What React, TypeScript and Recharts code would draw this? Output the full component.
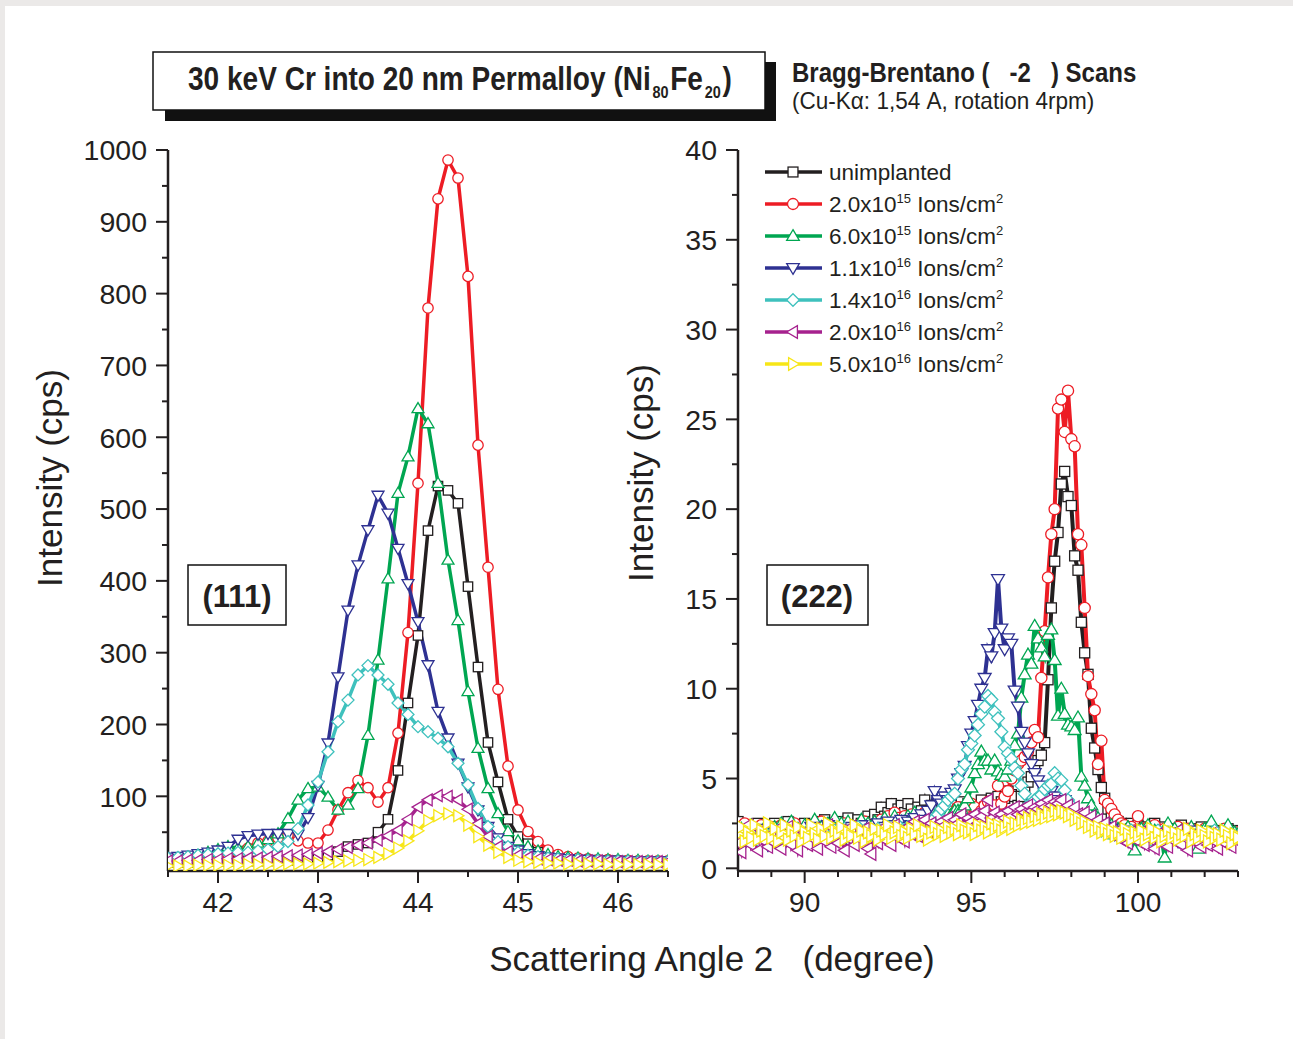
import React from "react";
import { LineChart, Line, XAxis, YAxis } from "recharts";

const FONT = "'Liberation Sans', Arial, Helvetica, sans-serif";
const INK = "#231f20";

// ---------- (111) reflection, 2θ 41.5°–46.5° ----------
const angles111 = [
  41.5, 41.6, 41.7, 41.8, 41.9,
  42, 42.1, 42.2, 42.3, 42.4, 42.5, 42.6, 42.7, 42.8, 42.9,
  43, 43.1, 43.2, 43.3, 43.4, 43.5, 43.6, 43.7, 43.8, 43.9,
  44, 44.1, 44.2, 44.3, 44.4, 44.5, 44.6, 44.7, 44.8, 44.9,
  45, 45.1, 45.2, 45.3, 45.4, 45.5, 45.6, 45.7, 45.8, 45.9,
  46, 46.1, 46.2, 46.3, 46.4, 46.5,
];
const unimplanted111 = [
  8, 8, 8, 9, 9,
  9, 9, 10, 10, 10, 10, 11, 11, 12, 13,
  15, 18, 23, 30, 33, 35, 50, 68, 136, 230,
  324, 470, 532, 526, 508, 392, 280, 175, 120, 68,
  44, 34, 22, 16, 13, 12, 11, 11, 10, 10,
  10, 9, 9, 9, 9, 9,
];
const dose2e15_111 = [
  12, 12, 13, 14, 15,
  17, 19, 22, 28, 35, 38, 42, 46, 38, 35,
  35, 53, 81, 105, 122, 112, 92, 112, 188, 328,
  536, 780, 932, 986, 961, 824, 589, 419, 249, 142,
  81, 51, 37, 25, 19, 16, 14, 13, 12, 12,
  11, 11, 10, 10, 10, 10,
];
const dose6e15_111 = [
  12, 13, 15, 18, 22,
  26, 30, 28, 30, 35, 40, 48, 69, 95, 111,
  113, 99, 81, 88, 111, 185, 290, 403, 522, 573,
  640, 619, 536, 429, 345, 246, 167, 111, 76, 51,
  38, 30, 24, 19, 16, 15, 14, 13, 13, 12,
  12, 11, 11, 10, 10, 10,
];
const dose11e16_111 = [
  15, 16, 18, 20, 22,
  25, 30, 40, 45, 47, 48, 48, 48, 47, 70,
  115, 174, 266, 359, 422, 471, 519, 494, 445, 396,
  343, 283, 218, 181, 146, 113, 81, 58, 42, 30,
  25, 20, 17, 15, 14, 13, 12, 12, 11, 11,
  11, 10, 10, 10, 10, 10,
];
const dose14e16_111 = [
  14, 15, 16, 18, 19,
  20, 21, 22, 22, 24, 26, 30, 37, 55, 88,
  120, 162, 204, 234, 269, 282, 269, 256, 230, 214,
  197, 190, 181, 169, 146, 116, 83, 58, 37, 30,
  22, 18, 16, 14, 13, 12, 12, 11, 11, 10,
  10, 10, 9, 9, 9, 9,
];
const dose2e16_111 = [
  10, 10, 11, 11, 12,
  12, 13, 13, 14, 14, 15, 16, 17, 18, 19,
  21, 23, 26, 29, 32, 35, 39, 45, 53, 68,
  85, 95, 101, 100, 95, 82, 62, 44, 30, 23,
  18, 15, 13, 12, 11, 11, 10, 10, 10, 9,
  9, 9, 9, 9, 9, 9,
];
const dose5e16_111 = [
  3, 3, 3, 4, 4,
  4, 4, 4, 5, 5, 5, 5, 6, 6, 6,
  7, 8, 9, 10, 11, 12, 15, 20, 28, 38,
  52, 66, 73, 76, 73, 60, 44, 32, 22, 15,
  11, 9, 8, 7, 7, 6, 6, 6, 6, 5,
  5, 5, 5, 5, 5, 5,
];

// ---------- (222) reflection, 2θ 88°–103° ----------
const angles222 = [
  88, 88.1, 88.2, 88.3, 88.4, 88.5, 88.6, 88.7, 88.8, 88.9,
  89, 89.1, 89.2, 89.3, 89.4, 89.5, 89.6, 89.7, 89.8, 89.9,
  90, 90.1, 90.2, 90.3, 90.4, 90.5, 90.6, 90.7, 90.8, 90.9,
  91, 91.1, 91.2, 91.3, 91.4, 91.5, 91.6, 91.7, 91.8, 91.9,
  92, 92.1, 92.2, 92.3, 92.4, 92.5, 92.6, 92.7, 92.8, 92.9,
  93, 93.1, 93.2, 93.3, 93.4, 93.5, 93.6, 93.7, 93.8, 93.9,
  94, 94.1, 94.2, 94.3, 94.4, 94.5, 94.6, 94.7, 94.8, 94.9,
  95, 95.1, 95.2, 95.3, 95.4, 95.5, 95.6, 95.7, 95.8, 95.9,
  96, 96.1, 96.2, 96.3, 96.4, 96.5, 96.6, 96.7, 96.8, 96.9,
  97, 97.1, 97.2, 97.3, 97.4, 97.5, 97.6, 97.7, 97.8, 97.9,
  98, 98.1, 98.2, 98.3, 98.4, 98.5, 98.6, 98.7, 98.8, 98.9,
  99, 99.1, 99.2, 99.3, 99.4, 99.5, 99.6, 99.7, 99.8, 99.9,
  100, 100.1, 100.2, 100.3, 100.4, 100.5, 100.6, 100.7, 100.8, 100.9,
  101, 101.1, 101.2, 101.3, 101.4, 101.5, 101.6, 101.7, 101.8, 101.9,
  102, 102.1, 102.2, 102.3, 102.4, 102.5, 102.6, 102.7, 102.8, 102.9,
  103,
];
const unimplanted222 = [
  2.6, 2.3, 2.0, 2.4, 2.2, 1.9, 2.5, 2.1, 2.3, 2.0,
  2.2, 2.5, 1.9, 2.3, 2.1, 2.6, 2.0, 2.4, 2.2, 2.3,
  2.5, 2.1, 2.4, 2.0, 2.6, 2.3, 2.7, 2.2, 2.5, 2.4,
  2.1, 2.6, 2.3, 2.8, 2.4, 2.2, 2.7, 2.5, 2.3, 2.9,
  2.6, 3.0, 2.7, 3.4, 2.9, 3.1, 3.6, 3.0, 3.3, 3.5,
  3.1, 3.6, 3.3, 2.9, 3.4, 3.2, 3.8, 3.0, 3.5, 3.3,
  3.0, 3.4, 3.1, 3.6, 3.2, 3.5, 3.3, 3.7, 3.4, 3.6,
  3.2, 3.5, 3.3, 3.8, 3.4, 3.6, 3.9, 3.5, 4.0, 3.7,
  3.9, 4.3, 4.1, 4.0, 3.5, 4.0, 4.5, 4.8, 5.1, 5.6,
  6.0, 6.3, 7.0, 10.5, 14.5, 17.1, 18.7, 21.4, 22.1, 20.7,
  20.2, 17.4, 16.6, 13.7, 12.0, 10.8, 7.8, 6.7, 5.5, 4.5,
  3.9, 3.3, 3.0, 2.8, 2.6, 2.5, 2.4, 2.3, 2.5, 2.2,
  2.4, 2.1, 2.3, 2.0, 2.2, 2.5, 1.9, 2.1, 2.3, 2.0,
  2.2, 1.9, 2.1, 2.4, 1.8, 2.0, 2.2, 1.9, 2.1, 2.3,
  1.8, 2.0, 2.2, 1.9, 2.1, 1.7, 2.0, 2.2, 1.9, 2.1,
  2.0,
];
const dose2e15_222 = [
  2.2, 1.6, 2.5, 1.9, 2.3, 1.5, 2.1, 2.4, 1.8, 2.0,
  2.3, 1.7, 2.0, 2.4, 1.9, 2.2, 1.6, 2.5, 2.0, 1.8,
  2.1, 2.4, 1.7, 2.2, 1.9, 2.6, 2.0, 1.8, 2.3, 2.1,
  1.9, 2.2, 2.5, 2.0, 2.3, 1.8, 2.4, 2.1, 2.6, 2.2,
  2.0, 2.4, 2.2, 2.7, 2.3, 2.9, 2.5, 3.1, 2.8, 2.6,
  2.9, 2.5, 3.0, 2.7, 2.4, 2.8, 3.1, 2.6, 2.9, 2.7,
  2.8, 3.0, 2.6, 3.2, 2.9, 3.1, 3.4, 3.0, 3.3, 3.5,
  3.6, 3.4, 3.0, 3.2, 3.5, 3.7, 3.5, 3.5, 4.6, 3.6,
  4.0, 4.3, 5.0, 5.45, 5.8, 6.0, 6.2, 6.5, 7.0, 7.7,
  7.3, 10.6, 13.2, 16.2, 18.6, 20.0, 25.6, 26.1, 24.3, 26.6,
  23.9, 23.5, 18.6, 18.0, 14.5, 10.7, 9.7, 8.8, 5.8, 7.1,
  3.8, 3.6, 3.3, 3.0, 2.7, 2.5, 2.4, 2.2, 2.3, 2.1,
  2.9, 2.2, 1.9, 2.3, 2.0, 2.4, 1.8, 2.1, 2.2, 1.9,
  2.1, 1.8, 2.3, 2.0, 1.7, 2.2, 1.9, 2.1, 1.8, 2.0,
  2.2, 1.9, 1.7, 2.1, 2.0, 1.8, 2.2, 1.9, 2.0, 1.8,
  2.0,
];
const dose6e15_222 = [
  1.8, 2.2, 1.5, 2.0, 2.4, 1.7, 2.1, 1.9, 2.3, 1.6,
  2.0, 2.3, 1.8, 2.5, 1.9, 2.1, 2.6, 1.7, 2.2, 2.0,
  2.4, 1.9, 2.2, 2.7, 2.0, 2.3, 1.8, 2.5, 2.1, 2.8,
  2.2, 2.5, 2.0, 2.6, 2.3, 1.9, 2.4, 2.7, 2.1, 2.5,
  2.3, 2.6, 2.0, 2.4, 2.8, 2.2, 2.5, 2.9, 2.3, 2.6,
  2.4, 2.9, 2.6, 3.1, 2.7, 2.5, 3.0, 2.8, 3.2, 2.9,
  2.5, 2.7, 2.8, 3.0, 3.0, 3.2, 3.2, 3.3, 3.5, 3.9,
  4.5, 5.3, 5.8, 6.5, 6.0, 6.0, 5.5, 6.0, 5.4, 5.2,
  5.1, 5.5, 6.0, 6.85, 7.5, 9.5, 10.8, 11.9, 11.4, 13.5,
  12.8, 12.3, 11.8, 13.0, 13.3, 11.6, 8.5, 10.0, 8.6, 8.0,
  7.9, 7.7, 8.4, 5.1, 4.6, 3.9, 3.5, 3.0, 2.8, 2.5,
  2.3, 2.1, 2.4, 1.9, 2.2, 2.0, 1.7, 2.3, 1.8, 1.0,
  2.1, 2.2, 1.9, 2.4, 1.8, 2.1, 2.0, 1.7, 0.6, 2.5,
  1.9, 2.2, 1.8, 2.1, 1.6, 2.0, 2.3, 1.9, 1.1, 2.0,
  2.2, 1.8, 2.6, 2.0, 1.7, 2.1, 1.9, 2.4, 1.8, 2.0,
  1.9,
];
const dose11e16_222 = [
  1.6, 2.0, 1.4, 1.8, 2.1, 1.5, 1.9, 1.7, 2.2, 1.3,
  1.8, 2.1, 1.6, 1.9, 1.4, 2.0, 1.7, 2.2, 1.5, 1.9,
  2.0, 1.6, 2.3, 1.8, 1.5, 2.1, 1.9, 2.4, 1.7, 2.0,
  1.7, 2.2, 1.9, 1.6, 2.3, 2.0, 1.8, 2.4, 2.1, 1.9,
  2.2, 1.8, 2.5, 2.0, 2.3, 2.6, 2.1, 2.4, 2.2, 2.7,
  2.3, 2.6, 2.4, 2.8, 2.5, 3.0, 2.7, 3.2, 3.5, 4.3,
  3.8, 3.6, 4.0, 3.8, 4.2, 4.4, 5.0, 5.3, 5.7, 6.8,
  7.5, 8.2, 9.1, 10.0, 10.6, 12.2, 11.8, 13.1, 16.1, 13.35,
  12.2, 12.8, 12.5, 9.9, 9.0, 7.6, 7.0, 6.4, 5.8, 5.3,
  4.9, 4.6, 4.2, 4.0, 4.3, 4.0, 3.8, 3.6, 3.8, 3.4,
  3.2, 3.0, 2.9, 2.7, 2.8, 2.7, 2.5, 2.4, 2.3, 2.4,
  2.3, 2.1, 2.2, 1.9, 2.0, 1.8, 2.1, 1.7, 1.9, 2.0,
  1.8, 1.6, 2.0, 1.7, 1.9, 1.5, 1.8, 2.0, 1.6, 1.9,
  1.7, 2.0, 1.5, 1.8, 1.9, 1.6, 2.1, 1.7, 1.8, 1.5,
  1.9, 1.6, 1.8, 2.0, 1.5, 1.7, 1.9, 1.6, 1.8, 1.7,
  1.8,
];
const dose14e16_222 = [
  1.7, 2.0, 1.5, 1.9, 1.6, 2.1, 1.8, 1.4, 2.0, 1.7,
  1.9, 1.5, 2.1, 1.8, 1.6, 2.0, 1.7, 2.2, 1.5, 1.9,
  1.8, 2.1, 1.6, 1.9, 2.2, 1.7, 2.0, 1.5, 1.8, 2.1,
  1.6, 1.9, 2.2, 1.8, 2.0, 1.7, 2.3, 1.9, 2.1, 1.8,
  2.0, 1.8, 2.2, 1.9, 2.1, 2.3, 2.0, 2.2, 2.4, 2.1,
  2.0, 2.3, 2.1, 2.4, 2.2, 2.3, 2.5, 2.6, 2.6, 2.8,
  3.0, 3.3, 3.5, 3.8, 4.0, 4.15, 5.0, 5.5, 5.8, 6.6,
  6.95, 7.4, 8.0, 8.6, 9.0, 9.6, 9.4, 8.7, 8.35, 7.6,
  6.75, 6.4, 6.1, 5.6, 5.3, 4.6, 4.15, 3.5, 3.6, 3.8,
  3.97, 4.1, 4.4, 4.6, 4.7, 5.3, 5.0, 4.9, 4.35, 3.8,
  3.5, 3.2, 3.0, 2.8, 2.6, 2.5, 2.4, 2.3, 2.2, 2.1,
  2.2, 2.0, 1.9, 2.1, 1.8, 2.0, 1.7, 1.9, 2.1, 1.8,
  1.9, 1.7, 2.0, 1.8, 1.6, 1.9, 2.1, 1.7, 1.8, 2.0,
  1.7, 1.9, 1.6, 2.0, 1.8, 1.5, 1.9, 1.7, 2.0, 1.8,
  1.6, 1.9, 1.7, 2.1, 1.8, 1.6, 2.0, 1.7, 1.9, 1.8,
  1.7,
];
const dose2e16_222 = [
  1.4, 0.9, 1.8, 2.4, 1.3, 1.7, 1.0, 2.1, 1.5, 1.2,
  1.9, 1.4, 2.2, 1.1, 1.7, 2.3, 1.3, 1.8, 1.0, 1.6,
  2.0, 1.3, 1.7, 2.2, 1.1, 1.9, 1.5, 2.4, 1.2, 1.8,
  1.4, 2.1, 1.0, 1.7, 2.3, 1.3, 1.9, 1.6, 2.2, 1.1,
  0.8, 1.8, 1.4, 2.2, 1.6, 2.0, 1.3, 2.4, 1.7, 2.1,
  1.5, 2.3, 1.9, 2.6, 1.8, 2.2, 2.7, 2.0, 2.5, 2.3,
  2.1, 2.6, 2.4, 2.8, 2.2, 2.7, 2.5, 3.0, 2.4, 2.8,
  2.6, 3.0, 2.5, 2.9, 3.2, 3.8, 2.8, 3.1, 2.7, 3.0,
  2.8, 3.2, 2.9, 3.4, 3.0, 3.3, 3.1, 3.5, 3.2, 3.4,
  3.3, 3.6, 3.4, 3.8, 3.5, 3.7, 3.6, 3.8, 3.4, 3.5,
  3.2, 3.4, 3.0, 2.7, 3.1, 2.6, 2.9, 2.4, 2.7, 2.2,
  2.5, 2.0, 2.3, 1.8, 2.1, 1.6, 1.9, 1.4, 2.0, 1.7,
  1.5, 2.0, 1.3, 1.8, 1.6, 1.1, 1.9, 1.4, 1.7, 1.2,
  1.8, 1.5, 2.1, 1.3, 1.7, 1.0, 1.6, 1.9, 1.4, 1.2,
  1.7, 1.3, 1.9, 1.5, 1.1, 1.8, 1.4, 1.6, 1.2, 1.7,
  1.5,
];
const dose5e16_222 = [
  1.9, 2.3, 1.5, 2.0, 1.7, 2.4, 1.6, 2.1, 1.8, 2.5,
  1.7, 2.2, 1.5, 2.0, 2.4, 1.6, 2.1, 1.8, 2.3, 1.5,
  2.0, 1.7, 2.4, 1.9, 1.6, 2.2, 1.8, 2.5, 1.7, 2.1,
  1.9, 2.3, 1.6, 2.0, 1.8, 2.4, 1.7, 2.1, 1.5, 2.0,
  1.8, 2.2, 1.6, 2.1, 1.9, 2.4, 1.7, 2.0, 2.3, 1.8,
  2.0, 1.7, 2.2, 1.9, 2.4, 1.8, 2.1, 1.6, 2.0, 2.3,
  1.9, 2.1, 1.8, 2.3, 2.0, 2.2, 1.9, 2.4, 2.1, 2.0,
  2.2, 1.9, 2.4, 2.1, 2.3, 2.0, 2.5, 2.2, 2.4, 2.1,
  2.3, 2.6, 2.2, 2.5, 2.4, 2.7, 2.5, 2.8, 2.6, 2.9,
  2.7, 3.0, 2.8, 3.1, 2.9, 3.2, 3.0, 3.2, 3.1, 2.9,
  3.0, 2.7, 2.8, 2.5, 2.6, 2.3, 2.4, 2.1, 2.3, 2.0,
  2.2, 1.9, 2.1, 1.8, 2.0, 1.7, 2.2, 1.9, 1.6, 2.0,
  1.8, 2.1, 1.6, 1.9, 2.2, 1.7, 2.0, 1.5, 1.8, 2.1,
  1.7, 2.0, 1.6, 1.9, 1.8, 2.2, 1.5, 1.9, 1.7, 2.1,
  1.8, 1.5, 2.0, 1.7, 1.9, 1.6, 2.1, 1.8, 1.4, 1.9,
  1.7,
];

// axis ticks
const xTicks111 = [41.5, 42, 42.5, 43, 43.5, 44, 44.5, 45, 45.5, 46, 46.5];
const xLabels111 = [42, 43, 44, 45, 46];
const yTicks111 = [50, 100, 150, 200, 250, 300, 350, 400, 450, 500, 550, 600, 650, 700, 750, 800, 850, 900, 950, 1000];
const yLabels111 = [100, 200, 300, 400, 500, 600, 700, 800, 900, 1000];
const xTicks222 = [88, 89, 90, 91, 92, 93, 94, 95, 96, 97, 98, 99, 100, 101, 102, 103];
const xLabels222 = [90, 95, 100];
const yTicks222 = [0, 2.5, 5, 7.5, 10, 12.5, 15, 17.5, 20, 22.5, 25, 27.5, 30, 32.5, 35, 37.5, 40];
const yLabels222 = [0, 5, 10, 15, 20, 25, 30, 35, 40];

// legend text parts: mantissa and exponent of the dose
const doseMantissa = ["2.0", "6.0", "1.1", "1.4", "2.0", "5.0"];
const doseExponent = ["15", "15", "16", "16", "16", "16"];

type Shape = "square" | "circle" | "up" | "down" | "diamond" | "left" | "right";

const series: { key: string; color: string; shape: Shape }[] = [
  { key: "s0", color: "#231f20", shape: "square" },
  { key: "s1", color: "#ed1c24", shape: "circle" },
  { key: "s2", color: "#00a651", shape: "up" },
  { key: "s3", color: "#2e3192", shape: "down" },
  { key: "s4", color: "#3ec1bd", shape: "diamond" },
  { key: "s5", color: "#a6228e", shape: "left" },
  { key: "s6", color: "#f7e617", shape: "right" },
];

const rows111 = angles111.map((a, i) => ({
  angle: a,
  s0: unimplanted111[i],
  s1: dose2e15_111[i],
  s2: dose6e15_111[i],
  s3: dose11e16_111[i],
  s4: dose14e16_111[i],
  s5: dose2e16_111[i],
  s6: dose5e16_111[i],
}));

const rows222 = angles222.map((a, i) => ({
  angle: a,
  s0: unimplanted222[i],
  s1: dose2e15_222[i],
  s2: dose6e15_222[i],
  s3: dose11e16_222[i],
  s4: dose14e16_222[i],
  s5: dose2e16_222[i],
  s6: dose5e16_222[i],
}));

function Marker({ cx, cy, shape, color, r }: { cx?: number; cy?: number; shape: Shape; color: string; r: number }) {
  if (cx == null || cy == null || isNaN(cx) || isNaN(cy)) return null;
  const st = { fill: "#fff", stroke: color, strokeWidth: 1.3 };
  const k = r * 1.15;
  switch (shape) {
    case "square":
      return <rect x={cx - r * 0.9} y={cy - r * 0.9} width={r * 1.8} height={r * 1.8} {...st} />;
    case "circle":
      return <circle cx={cx} cy={cy} r={r} {...st} />;
    case "up":
      return <polygon points={`${cx},${cy - k} ${cx + k},${cy + r * 0.8} ${cx - k},${cy + r * 0.8}`} {...st} />;
    case "down":
      return <polygon points={`${cx},${cy + k} ${cx + k},${cy - r * 0.8} ${cx - k},${cy - r * 0.8}`} {...st} />;
    case "diamond":
      return <polygon points={`${cx},${cy - k} ${cx + k},${cy} ${cx},${cy + k} ${cx - k},${cy}`} {...st} />;
    case "left":
      return <polygon points={`${cx - k},${cy} ${cx + r * 0.8},${cy - k} ${cx + r * 0.8},${cy + k}`} {...st} />;
    default:
      return <polygon points={`${cx + k},${cy} ${cx - r * 0.8},${cy - k} ${cx - r * 0.8},${cy + k}`} {...st} />;
  }
}

// ticks drawn by hand so major/minor tick lengths differ
function yTick(axisX: number, labels: number[], fontSize: number) {
  return (p: any) => {
    const v = p.payload?.value;
    const major = labels.includes(v);
    return (
      <g key={`yt-${v}`}>
        <line x1={axisX - (major ? 12 : 6)} x2={axisX} y1={p.y} y2={p.y} stroke={INK} strokeWidth={2} />
        {major && (
          <text x={axisX - 21} y={p.y} dy="0.36em" textAnchor="end" fontSize={fontSize} fill={INK} fontFamily={FONT}>
            {v}
          </text>
        )}
      </g>
    );
  };
}

function xTick(axisY: number, labels: number[], fontSize: number) {
  return (p: any) => {
    const v = p.payload?.value;
    const major = labels.includes(v);
    return (
      <g key={`xt-${v}`}>
        <line x1={p.x} x2={p.x} y1={axisY} y2={axisY + (major ? 12 : 6)} stroke={INK} strokeWidth={2} />
        {major && (
          <text x={p.x} y={axisY + 21} dy="0.71em" textAnchor="middle" fontSize={fontSize} fill={INK} fontFamily={FONT}>
            {v}
          </text>
        )}
      </g>
    );
  };
}

const PLOT_TOP = 150;
const PLOT_BOTTOM = 871;
const CH = 1039;
const X_AXIS_H = 60;

function Panel({
  data, left, width, yWidth, right, xDomain, yDomain, xTicks, xLabels, yTicks, yLabels, r, sw,
}: any) {
  return (
    <div style={{ position: "absolute", left, top: 0 }}>
      <LineChart
        width={width}
        height={CH}
        data={data}
        margin={{ top: PLOT_TOP, right, bottom: CH - PLOT_BOTTOM - X_AXIS_H, left: 0 }}
      >
        <XAxis
          type="number"
          dataKey="angle"
          domain={xDomain}
          ticks={xTicks}
          interval={0}
          height={X_AXIS_H}
          tickLine={false}
          axisLine={{ stroke: INK, strokeWidth: 2.5 }}
          tick={xTick(PLOT_BOTTOM, xLabels, 28)}
          allowDataOverflow
        />
        <YAxis
          type="number"
          domain={yDomain}
          ticks={yTicks}
          interval={0}
          width={yWidth}
          tickLine={false}
          axisLine={{ stroke: INK, strokeWidth: 2.5 }}
          tick={yTick(yWidth, yLabels, 28.5)}
          allowDataOverflow
        />
        {series.map((s) => (
          <Line
            key={s.key}
            type="linear"
            dataKey={s.key}
            stroke={s.color}
            strokeWidth={sw}
            isAnimationActive={false}
            activeDot={false}
            dot={(p: any) => <Marker key={`${s.key}-${p.index}`} cx={p.cx} cy={p.cy} shape={s.shape} color={s.color} r={r} />}
          />
        ))}
      </LineChart>
    </div>
  );
}

function Sup({ children }: { children: React.ReactNode }) {
  return (
    <tspan dy={-9} fontSize={13}>
      {children}
    </tspan>
  );
}

export default function App() {
  const legendRows = series.map((s, i) => ({ ...s, y: 172 + i * 32 }));
  return (
    <div style={{ position: "absolute", left: 0, top: 0, width: 1293, height: 1039, background: "#ebe9e8", fontFamily: FONT, overflow: "hidden" }}>
      <div style={{ position: "absolute", left: 5, top: 6, width: 1288, height: 1033, background: "#fff" }} />
      <Panel
        data={rows111}
        left={0}
        width={700}
        yWidth={168}
        right={32}
        xDomain={[41.5, 46.5]}
        yDomain={[-4, 1000]}
        xTicks={xTicks111}
        xLabels={xLabels111}
        yTicks={yTicks111}
        yLabels={yLabels111}
        r={5.2}
        sw={3.5}
      />
      <Panel
        data={rows222}
        left={680}
        width={613}
        yWidth={58}
        right={55}
        xDomain={[88, 103]}
        yDomain={[-0.15, 40]}
        xTicks={xTicks222}
        xLabels={xLabels222}
        yTicks={yTicks222}
        yLabels={yLabels222}
        r={5.6}
        sw={4}
      />
      <svg width={1293} height={1039} style={{ position: "absolute", left: 0, top: 0, pointerEvents: "none" }} fontFamily={FONT}>
        {/* title box with drop shadow */}
        <rect x={165} y={62} width={611} height={59} fill="#111" />
        <rect x={153} y={52} width={612} height={58} fill="#fff" stroke="#111" strokeWidth={1.5} />
        <g transform="translate(188,90) scale(0.85,1)">
          <text x={0} y={0} fontSize={33} fontWeight="bold" fill={INK}>
            30 keV Cr into 20 nm Permalloy (Ni
            <tspan dy={8} dx={2} fontSize={17}>80</tspan>
            <tspan dy={-8} dx={2}>Fe</tspan>
            <tspan dy={8} dx={2} fontSize={17}>20</tspan>
            <tspan dy={-8} dx={2}>)</tspan>
          </text>
        </g>
        <g transform="translate(792,82) scale(0.89,1)">
          <text x={0} y={0} fontSize={27} fontWeight="bold" fill={INK} style={{ whiteSpace: "pre" }}>
            {"Bragg-Brentano (   -2   ) Scans"}
          </text>
        </g>
        <g transform="translate(792,109) scale(0.98,1)">
          <text x={0} y={0} fontSize={23} fill={INK}>
            (Cu-Kα: 1,54 A, rotation 4rpm)
          </text>
        </g>

        {/* axis titles */}
        <text transform="translate(62,478) rotate(-90)" textAnchor="middle" fontSize={35} fill={INK}>
          Intensity (cps)
        </text>
        <text transform="translate(653,473) rotate(-90)" textAnchor="middle" fontSize={35} fill={INK}>
          Intensity (cps)
        </text>
        <text x={712} y={971} textAnchor="middle" fontSize={35} fill={INK} style={{ whiteSpace: "pre" }}>
          {"Scattering Angle 2   (degree)"}
        </text>

        {/* reflection labels */}
        <rect x={188} y={565} width={98} height={60} fill="#fff" stroke="#111" strokeWidth={1.5} />
        <text x={237} y={607} textAnchor="middle" fontSize={31} fontWeight="bold" fill={INK}>
          (111)
        </text>
        <rect x={767} y={565} width={101} height={60} fill="#fff" stroke="#111" strokeWidth={1.5} />
        <text x={817} y={607} textAnchor="middle" fontSize={31} fontWeight="bold" fill={INK}>
          (222)
        </text>

        {/* legend */}
        {legendRows.map((s, i) => (
          <g key={s.key}>
            <line x1={765} x2={822} y1={s.y} y2={s.y} stroke={s.color} strokeWidth={3.5} />
            <Marker cx={793} cy={s.y} shape={s.shape} color={s.color} r={5.5} />
            <text x={829} y={s.y + 8} fontSize={22.5} fill={INK}>
              {i === 0 ? (
                "unimplanted"
              ) : (
                <>
                  {doseMantissa[i - 1]}x10
                  <Sup>{doseExponent[i - 1]}</Sup>
                  <tspan dy={9}> Ions/cm</tspan>
                  <Sup>2</Sup>
                </>
              )}
            </text>
          </g>
        ))}
      </svg>
    </div>
  );
}
